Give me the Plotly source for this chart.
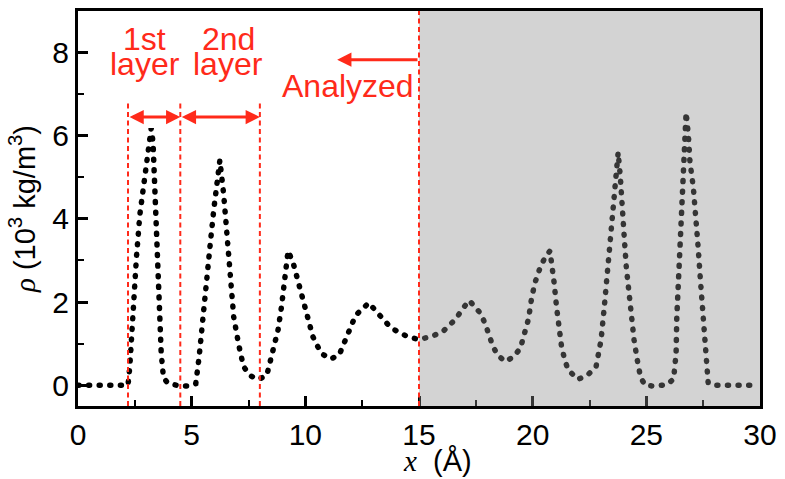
import plotly.graph_objects as go

# ---- data ----
x_pos = [0.0, 0.5, 1.0, 1.5, 2.0, 2.2, 2.28, 2.43, 2.57, 2.72, 2.91, 3.08, 3.22, 3.3, 3.37, 3.44, 3.51,
         3.59, 3.66, 3.76, 3.95, 4.17, 4.5, 4.85, 5.05, 5.18, 5.33, 5.5, 5.69, 5.83, 5.98, 6.1, 6.24,
         6.41, 6.56, 6.7, 6.85, 7.07, 7.28, 7.57, 7.93, 8.3, 8.51, 8.8, 8.95, 9.1, 9.24, 9.46, 9.67,
         9.89, 10.1, 10.33, 10.69, 11.12, 11.49, 11.85, 12.21, 12.79, 13.15, 13.73, 14.17, 14.6, 15.0,
         15.54, 16.05, 16.63, 16.92, 17.21, 17.72, 17.93, 18.23, 18.44, 18.8, 19.17, 19.46, 19.67,
         19.82, 19.96, 20.11, 20.33, 20.54, 20.76, 20.83, 20.95, 21.05, 21.17, 21.27, 21.41, 21.56,
         21.99, 22.43, 22.79, 23.01, 23.15, 23.3, 23.41, 23.51, 23.62, 23.76, 23.85, 23.95, 24.02,
         24.12, 24.24, 24.34, 24.46, 24.6, 24.75, 24.95, 25.3, 25.7, 25.95, 26.2, 26.31, 26.34, 26.41,
         26.46, 26.51, 26.57, 26.63, 26.69, 26.75, 26.85, 26.92, 27.07, 27.18, 27.28, 27.38, 27.5,
         27.57, 27.64, 27.72, 27.9, 28.3, 28.8, 29.2, 29.6]
rho = [0.0, 0.0, 0.0, 0.0, 0.0, 0.0, 0.45, 2.04, 3.07, 4.1, 4.9, 5.61, 6.18, 5.85, 4.82, 3.79, 2.68,
       1.56, 0.78, 0.18, 0.05, 0.02, -0.02, -0.02, 0.0, 0.04, 0.69, 1.72, 2.68, 3.47, 4.26, 4.9, 5.41,
       4.58, 3.47, 2.36, 1.64, 0.97, 0.45, 0.23, 0.14, 0.23, 0.69, 1.33, 1.88, 2.68, 3.23, 2.95, 2.52,
       2.04, 1.56, 1.17, 0.77, 0.63, 0.73, 1.25, 1.68, 1.98, 1.76, 1.4, 1.25, 1.15, 1.1,
       1.17, 1.29, 1.6, 1.84, 2.04, 1.72, 1.45, 0.97, 0.73, 0.57, 0.69, 0.89, 1.33,
       1.6, 2.12, 2.48, 2.83, 3.07, 3.23, 2.99, 2.44, 1.88, 1.33, 0.93, 0.61, 0.37,
       0.14, 0.25, 0.45, 1.09, 1.88, 2.83, 3.63, 4.26, 4.9, 5.6, 5.06, 4.42, 3.63,
       2.83, 2.2, 1.64, 1.09, 0.61, 0.18, 0.0, -0.02, 0.0, 0.03, 0.15, 0.77, 1.64, 2.52,
       3.31, 4.1, 4.9, 5.61, 6.17, 6.56, 6.01, 5.37, 4.74, 4.1, 3.31, 2.52, 1.72,
       1.09, 0.53, 0.06, 0.0, 0.0, 0.0, 0.0, 0.0]

layer_bounds = [2.2, 4.5, 8.0]
analyzed_edge = 15.0
x_ticks = [0, 5, 10, 15, 20, 25, 30]
y_ticks = [0, 2, 4, 6, 8]

RED = "#ff2a1a"
TICKFONT = dict(family="Liberation Sans, Arial, sans-serif", size=30, color="black")
SERIF = "font-family:'Liberation Serif','Times New Roman',serif"

fig = go.Figure()
fig.add_trace(go.Scatter(
    x=x_pos, y=rho, mode="lines",
    line=dict(color="black", width=5.5, dash="1px,9.6px"),
    showlegend=False, hoverinfo="skip"))

shapes = []
# shaded (non-analyzed) region, drawn above the data to grey it
shapes.append(dict(type="rect", xref="x", yref="y", x0=analyzed_edge, x1=30, y0=-0.5, y1=9,
                   fillcolor="rgba(140,140,140,0.38)", line=dict(width=0), layer="above"))
for xb in layer_bounds:
    shapes.append(dict(type="line", xref="x", yref="y", x0=xb, x1=xb, y0=-0.5, y1=6.85,
                       line=dict(color=RED, width=2, dash="5px,3.5px"), layer="above"))
shapes.append(dict(type="line", xref="x", yref="y", x0=analyzed_edge, x1=analyzed_edge, y0=-0.5, y1=9,
                   line=dict(color=RED, width=2, dash="5px,3.5px"), layer="above"))

annotations = []
# double arrows for layers
for a, b in zip(layer_bounds[:-1], layer_bounds[1:]):
    annotations.append(dict(x=b, y=6.45, ax=a, ay=6.45, xref="x", yref="y", axref="x", ayref="y",
                            text="", showarrow=True, arrowside="end+start", arrowhead=2,
                            startarrowhead=2, arrowsize=0.95, startarrowsize=0.95,
                            arrowwidth=3, arrowcolor=RED, standoff=0, startstandoff=0))
# Analyzed arrow
annotations.append(dict(x=11.4, y=7.83, ax=analyzed_edge, ay=7.83, xref="x", yref="y",
                        axref="x", ayref="y", text="", showarrow=True, arrowhead=2,
                        arrowsize=0.95, arrowwidth=3, arrowcolor=RED, standoff=0))
labels = [("1st", 2.94, 8.33), ("layer", 2.94, 7.72), ("2nd", 6.6, 8.33), ("layer", 6.62, 7.72),
          ("Analyzed", 11.89, 7.2)]
for t, xx, yy in labels:
    annotations.append(dict(x=xx, y=yy, xref="x", yref="y", text=t, showarrow=False,
                            xanchor="center", yanchor="middle",
                            font=dict(family="Liberation Sans, Arial, sans-serif", size=32, color=RED)))
# x-axis title (offset to the right as in the reference)
annotations.append(dict(x=15.8, y=-0.182, xref="x", yref="paper", showarrow=False,
                        xanchor="center", yanchor="bottom", borderpad=0,
                        text=f"<span style=\"{SERIF}\"><i>x</i></span>  (Å)",
                        font=dict(family="Liberation Sans, Arial, sans-serif", size=29, color="black")))

fig.update_layout(
    width=785, height=479,
    margin=dict(l=78, r=17, t=8, b=73),
    paper_bgcolor="white", plot_bgcolor="white",
    shapes=shapes, annotations=annotations,
    xaxis=dict(range=[0, 30], tickvals=x_ticks, ticks="inside", ticklen=10, tickwidth=2.5,
               tickcolor="black", showline=True, linewidth=3, linecolor="black", mirror=True,
               showgrid=False, zeroline=False, tickfont=TICKFONT,
               minor=dict(dtick=2.5, tick0=0, ticks="inside", ticklen=6, tickwidth=2, tickcolor="black")),
    yaxis=dict(range=[-0.5, 9], tickvals=y_ticks, ticks="inside", ticklen=10, tickwidth=2.5,
               tickcolor="black", showline=True, linewidth=3, linecolor="black", mirror=True,
               showgrid=False, zeroline=False, tickfont=TICKFONT,
               minor=dict(dtick=1, tick0=0, ticks="inside", ticklen=6, tickwidth=2, tickcolor="black"),
               title=dict(text=f"<span style=\"{SERIF}\"><i>ρ</i></span> (10<sup>3</sup> kg/m<sup>3</sup>)",
                          font=dict(family="Liberation Sans, Arial, sans-serif", size=29, color="black"),
                          standoff=9)),
)

post = """
var gd = document.getElementById('{plot_id}');
function rc(){ gd.querySelectorAll('.scatterlayer .js-line').forEach(function(p){ p.style.strokeLinecap='round'; }); }
rc(); if (gd.on) { gd.on('plotly_afterplot', rc); } setTimeout(rc, 30);
"""
fig.write_html("out.html", post_script=post)
